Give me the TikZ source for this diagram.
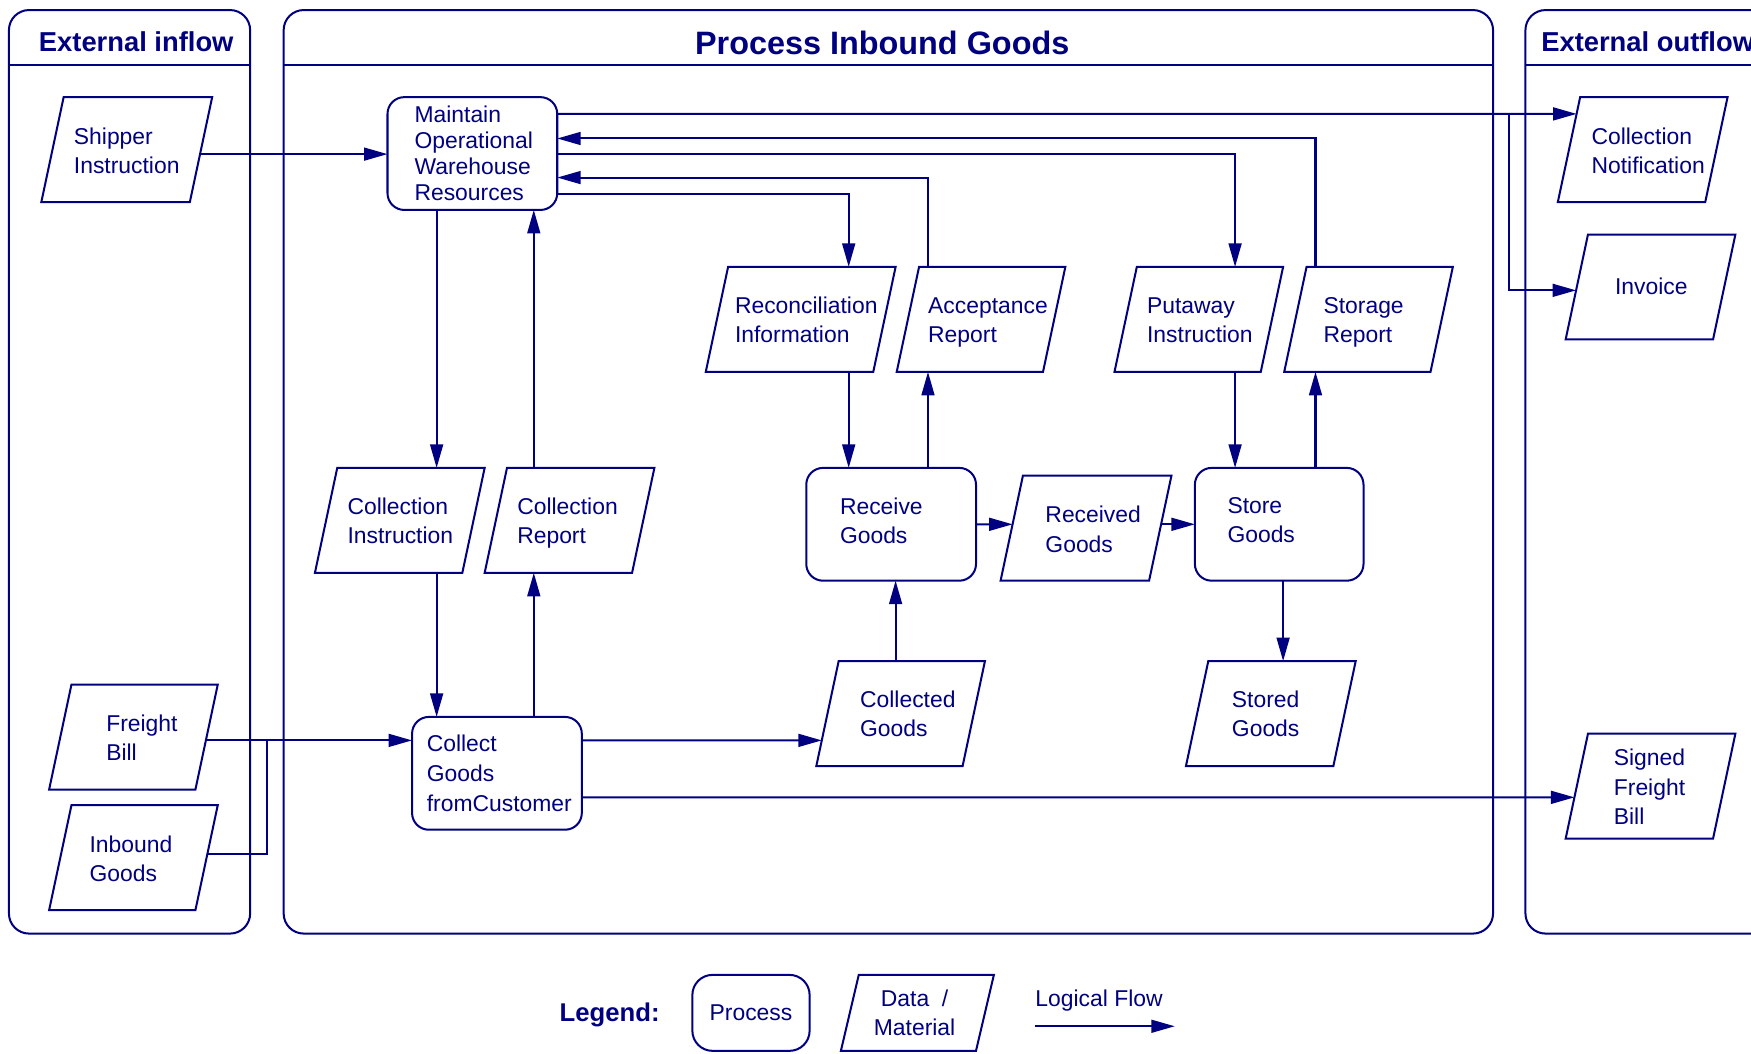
\documentclass[tikz,border=0pt]{standalone}
\usepackage{fontspec}
\setmainfont{Liberation Sans}
\usetikzlibrary{arrows.meta,calc}
\definecolor{navy}{RGB}{0,0,128}

\tikzset{
  outline/.style={draw=navy, line width=1.8pt, line join=miter},
  dbox/.style={inner sep=0pt, outer sep=0pt, draw=none},
  proc/.style={draw=navy, line width=1.8pt, rounded corners=15pt, inner sep=0pt, outer sep=0pt, anchor=north west},
  txt/.style={text=navy, font=\fontsize{20.5}{26}\selectfont, align=left, inner sep=0pt, anchor=west},
  flow/.style={draw=navy, line width=1.8pt, -{Triangle[length=21pt,width=11.5pt]}},
  wire/.style={draw=navy, line width=1.8pt},
  lane/.style={draw=navy, line width=1.8pt, rounded corners=18pt},
  title/.style={text=navy, font=\fontsize{24.5}{28}\selectfont\bfseries, inner sep=0pt},
}

% data / material shape: name, left x of lower edge, top y, bottom y, edge length, slant
\newcommand\datashape[6]{%
  \node[dbox, minimum width={(#5+#6)*1pt}, minimum height={(#4-#3)*1pt}, anchor=north west] (#1) at (#2,#3) {};
  \draw[outline] ([xshift=#6 pt]#1.north west) -- (#1.north east) -- ([xshift=-#6 pt]#1.south east) -- (#1.south west) -- cycle;
}

\begin{document}
\begin{tikzpicture}[x=1pt,y=-1pt]
\useasboundingbox (0,0) rectangle (1568,943);
\clip (0,0) rectangle (1568,943);

% swimlanes
\draw[lane] (8,9) rectangle (224,836);
\draw[wire] (8,58) -- (224,58);
\draw[lane] (254,9) rectangle (1337,836);
\draw[wire] (254,58) -- (1337,58);
\draw[lane] (1590,9) -- (1366,9) -- (1366,836) -- (1590,836);
\draw[wire] (1366,58) -- (1590,58);

\node[title] (h1) at (122,37) {External inflow};
\node[title, font=\fontsize{29}{32}\selectfont\bfseries] (h2) at (790,38) {Process Inbound Goods};
\node[title, anchor=west] (h3) at (1380,37) {External outflow};

% processes
\node[proc, minimum width=152pt, minimum height=101pt] (mow) at (347,87) {};
\node[txt, font=\fontsize{20.5}{23.3}\selectfont] (mowt) at (371,137) {Maintain\\Operational\\Warehouse\\Resources};
\node[proc, minimum width=152pt, minimum height=101pt] (cgc) at (369,642) {};
\node[txt, font=\fontsize{20.5}{26.5}\selectfont] (cgct) at (382,692.5) {Collect\\Goods\\fromCustomer};
\node[proc, minimum width=152pt, minimum height=101pt] (rcv) at (722,419) {};
\node[txt] (rcvt) at (752,466) {Receive\\Goods};
\node[proc, minimum width=151pt, minimum height=101pt] (sto) at (1070,419) {};
\node[txt] (stot) at (1099,466) {Store\\Goods};

% data and material
\datashape{ship}{37}{87}{181}{133}{20}
\node[txt] (shipt) at (66,135) {Shipper\\Instruction};
\datashape{fb}{44}{613}{707}{131}{20}
\node[txt] (fbt) at (95,661) {Freight\\Bill};
\datashape{ig}{44}{721}{815}{131}{20}
\node[txt] (igt) at (80,769) {Inbound\\Goods};
\datashape{ci}{282}{419}{513}{132}{20}
\node[txt] (cit) at (311,466) {Collection\\Instruction};
\datashape{cr}{434}{419}{513}{132}{20}
\node[txt] (crt) at (463,468.5) {Collection\\Report};
\datashape{ri}{632}{239}{333}{150}{20}
\node[txt] (rit) at (658,286) {Reconciliation\\Information};
\datashape{ar}{803}{239}{333}{131}{20}
\node[txt] (art) at (831,288.5) {Acceptance\\Report};
\datashape{pi}{998}{239}{333}{131}{20}
\node[txt] (pit) at (1027,287) {Putaway\\Instruction};
\datashape{sr}{1150}{239}{333}{131}{20}
\node[txt] (srt) at (1185,288.5) {Storage\\Report};
\datashape{rg}{896}{426}{520}{133}{20}
\node[txt] (rgt) at (936,474) {Received\\Goods};
\datashape{cg}{731}{592}{686}{131}{20}
\node[txt] (cgt) at (770,639.5) {Collected\\Goods};
\datashape{sg}{1062}{592}{686}{132}{20}
\node[txt] (sgt) at (1103,639.5) {Stored\\Goods};
\datashape{cn}{1395}{87}{181}{132}{20}
\node[txt] (cnt) at (1425,135) {Collection\\Notification};
\datashape{inv}{1402}{210}{304}{132}{20}
\node[txt] (invt) at (1446,256) {Invoice};
\datashape{sfb}{1402}{657}{751}{132}{20}
\node[txt] (sfbt) at (1445,704.5) {Signed\\Freight\\Bill};

% flows
\draw[flow] ($(ship.north east)!0.5426!([xshift=-20pt]ship.south east)$) coordinate (p1) -- (p1 -| mow.west);
\draw[flow] ($(mow.north east)+(0,15)$) -- ($([xshift=20pt]cn.north west)!0.1596!(cn.south west)$);
\coordinate (br) at (1351,102);
\draw[flow] (br) |- ($([xshift=20pt]inv.north west)!0.5319!(inv.south west)$);
\draw[flow] ([xshift=28pt]sr.north west) |- ($(mow.north east)+(0,37)$);
\draw[flow] ($(mow.north east)+(0,51)$) -| ([xshift=108pt]pi.north west);
\draw[flow] ([xshift=28pt]ar.north west) |- ($(mow.north east)+(0,72)$);
\draw[flow] ($(mow.north east)+(0,87)$) -| ([xshift=128pt]ri.north west);
\draw[flow] ([xshift=44pt]mow.south west) coordinate (p7) -- (p7 |- ci.north);
\draw[flow] ([xshift=44pt]cr.north west) coordinate (p8) -- (p8 |- mow.south);
\draw[flow] ([xshift=109pt]ci.south west) coordinate (p9) -- (p9 |- cgc.north);
\draw[flow] ([xshift=109pt]cgc.north west) coordinate (p10) -- (p10 |- cr.south);
\draw[flow] ($(fb.north east)!0.5319!([xshift=-20pt]fb.south east)$) coordinate (p11) -- (p11 -| cgc.west);
\coordinate (jn) at (239,663);
\draw[wire] ($(ig.north east)!0.4681!([xshift=-20pt]ig.south east)$) -| (jn);
\draw[flow] ($(cgc.north east)+(0,21)$) -- ($([xshift=20pt]cg.north west)!0.7553!(cg.south west)$);
\draw[flow] ($(cgc.north east)+(0,72)$) -- ($([xshift=20pt]sfb.north west)!0.6064!(sfb.south west)$);
\draw[flow] ([xshift=71pt]cg.north west) coordinate (p14) -- (p14 |- rcv.south);
\draw[flow] ([xshift=128pt]ri.south west) coordinate (p15) -- (p15 |- rcv.north);
\draw[flow] ([xshift=109pt]rcv.north west) coordinate (p16) -- (p16 |- ar.south);
\draw[flow] (rcv.east) -- ($([xshift=20pt]rg.north west)!0.4628!(rg.south west)$);
\draw[flow] ($(rg.north east)!0.4628!([xshift=-20pt]rg.south east)$) coordinate (p18) -- (p18 -| sto.west);
\draw[flow] ([xshift=108pt]pi.south west) coordinate (p19) -- (p19 |- sto.north);
\draw[flow] ([xshift=108pt]sto.north west) coordinate (p20) -- (p20 |- sr.south);
\draw[flow] ([xshift=79pt]sto.south west) coordinate (p21) -- (p21 |- sg.north);

% legend
\node[text=navy, font=\fontsize{23}{26}\selectfont\bfseries, inner sep=0pt, anchor=west] (lg) at (501,908.5) {Legend:};
\node[proc, rounded corners=18pt, minimum width=105pt, minimum height=68pt] (lgp) at (620,873) {};
\node[txt, anchor=center] (lgpt) at (lgp.center) {Process};
\datashape{lgd}{753}{873}{941}{121}{16}
\node[txt, anchor=center, align=center] (lgdt) at (819,907) {Data~~/\\Material};
\node[txt] (lgft) at (927,896) {Logical Flow};
\coordinate (lf1) at (927,919);
\coordinate (lf2) at (1052,919);
\draw[flow] (lf1) -- (lf2);
\end{tikzpicture}
\end{document}
